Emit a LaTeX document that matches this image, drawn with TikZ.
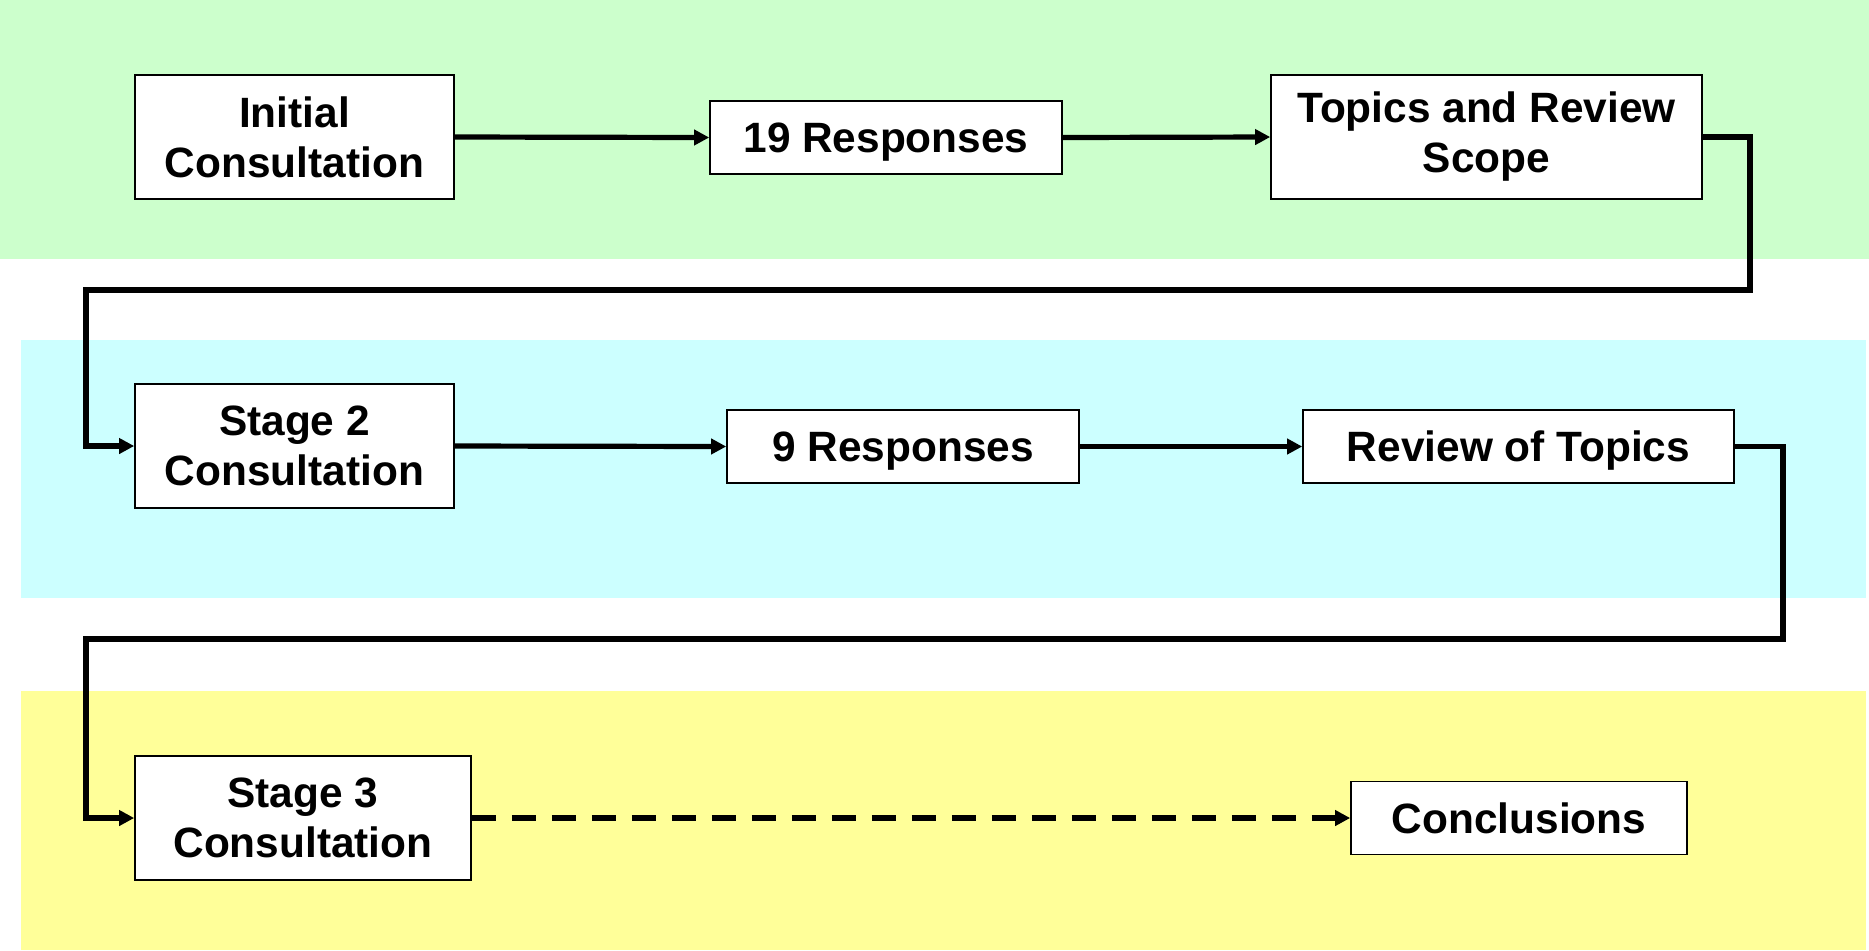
\documentclass[tikz,border=0pt]{standalone}
\usepackage{fontspec}
\setmainfont{Liberation Sans}
\usetikzlibrary{arrows.meta}
\definecolor{bandgreen}{HTML}{CCFFCC}
\definecolor{bandcyan}{HTML}{CCFFFF}
\definecolor{bandyellow}{HTML}{FFFF99}
\begin{document}
\begin{tikzpicture}[x=0.5pt,y=-0.5pt,
  box/.style={draw=black, line width=0.8pt, fill=white, align=center, inner sep=0pt,
    font=\fontsize{21.2}{25}\selectfont\bfseries},
  onebox/.style={box, text depth=0pt},
  conn/.style={line width=2.6pt, -{Triangle[length=7.5pt,width=7.5pt]}},
  dconn/.style={conn, dash pattern=on 12pt off 8pt}]
\useasboundingbox (0,0) rectangle (1869,950);
\fill[bandgreen] (0,0) rectangle (1869,259);
\fill[bandcyan] (21,340) rectangle (1866,598);
\fill[bandyellow] (21,691) rectangle (1866,950);

\node[box, minimum width=159.5pt, minimum height=62pt] (ic) at (294.5,137) {Initial\\Consultation};
\node[onebox, minimum width=176pt, minimum height=36.5pt] (r19) at (886,137.5) {19 Responses};
\node[box, minimum width=215.5pt, minimum height=62pt] (trs) at (1486.5,137) {Topics and Review\\Scope};

\node[box, minimum width=159.5pt, minimum height=62pt] (s2) at (294.5,446) {Stage 2\\Consultation};
\node[onebox, minimum width=176pt, minimum height=36.5pt] (r9) at (903,446.5) {9 Responses};
\node[onebox, minimum width=215.5pt, minimum height=36.5pt] (rot) at (1518.5,446.5) {Review of Topics};

\node[box, minimum width=168pt, minimum height=62pt] (s3) at (303,818) {Stage 3\\Consultation};
\node[onebox, minimum width=168pt, minimum height=36.5pt] (con) at (1519,818) {Conclusions};

\coordinate (a1) at (1750,290);
\coordinate (a2) at (86,290);
\coordinate (b1) at (1783,639);
\coordinate (b2) at (86,639);

\draw[conn] (ic.east) -- (r19.west);
\draw[conn] (r19.east) -- (trs.west);
\draw[conn] (trs.east) -| (a1) -- (a2) |- (s2.west);
\draw[conn] (s2.east) -- (r9.west);
\draw[conn] (r9.east) -- (rot.west);
\draw[conn] (rot.east) -| (b1) -- (b2) |- (s3.west);
\draw[dconn] (s3.east) -- (con.west);
\end{tikzpicture}
\end{document}
